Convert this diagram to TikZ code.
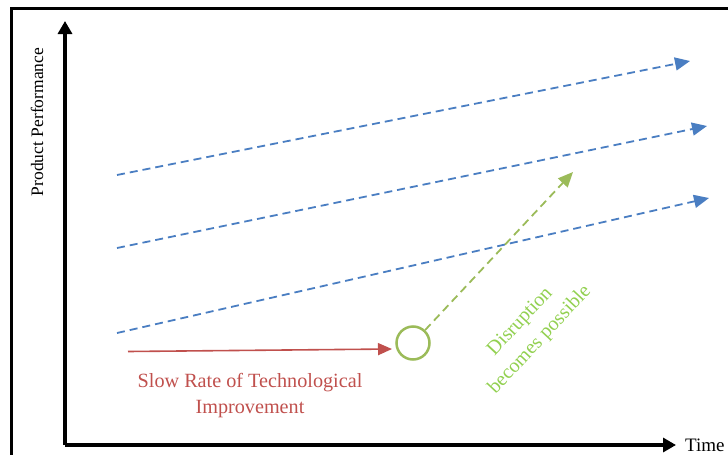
\documentclass[tikz,border=0pt]{standalone}
\usepackage{fontspec}
\setmainfont{Liberation Serif}
\usetikzlibrary{arrows.meta}
\definecolor{trendblue}{HTML}{4A7EC2}
\definecolor{slowred}{HTML}{C0504D}
\definecolor{disgreen}{HTML}{9BBB59}
\definecolor{distext}{HTML}{92D050}
\tikzset{
  axis/.style={line width=3.2pt,-{Triangle[length=13pt,width=14pt]}},
  trend/.style={trendblue,line width=1.8pt,dash pattern=on 8pt off 5pt,-{Triangle[length=15pt,width=13pt]}},
  slowarrow/.style={slowred,line width=1.6pt,-{Triangle[length=14pt,width=12pt]}},
  jump/.style={disgreen,line width=1.8pt,dash pattern=on 8pt off 5pt,-{Triangle[length=15pt,width=13pt]}},
  ring/.style={circle,draw=disgreen,line width=2.5pt,minimum size=33pt,inner sep=0pt},
  lbl/.style={inner sep=0pt,font=\fontsize{17.5}{20}\selectfont},
  dislbl/.style={inner sep=0pt,distext,rotate=47,font=\fontsize{20}{24}\selectfont},
}
\begin{document}
\begin{tikzpicture}[x=1pt,y=-1pt]
\useasboundingbox (0,0) rectangle (728,455);
% frame
\draw[line width=3pt] (10,8.5) -- (728,8.5);
\draw[line width=3pt] (11.5,7) -- (11.5,455);
% axes
\coordinate (o) at (65,445);
\coordinate (ytip) at (65,21);
\coordinate (xtip) at (676,445);
\draw[axis] (o) -- (ytip);
\draw[axis] (o) -- (xtip);
\node[lbl,anchor=west,font=\fontsize{19}{22}\selectfont] (tl) at (685,445) {Time};
\node[lbl,rotate=90] (pl) at (37,122) {Product Performance};
% sustaining trajectories
\coordinate (a1) at (117,175);
\coordinate (b1) at (690,61);
\coordinate (a2) at (117,248);
\coordinate (b2) at (707,126);
\coordinate (a3) at (117,333);
\coordinate (b3) at (709,198);
\draw[trend] (a1) -- (b1);
\draw[trend] (a2) -- (b2);
\draw[trend] (a3) -- (b3);
% slow improvement
\node[ring] (c) at (413,343) {};
\coordinate (r0) at (128,351.5);
\coordinate (r1) at (392,349);
\draw[slowarrow] (r0) -- (r1);
\node[lbl,slowred,align=center,font=\fontsize{20.2}{26}\selectfont] (sl) at (250,396) {Slow Rate of Technological\\Improvement};
% disruption
\coordinate (g1) at (573,172);
\draw[jump] (c) -- (g1);
\node[dislbl] (d1) at (520.5,322) {Disruption};
\node[dislbl] (d2) at (540,340) {becomes possible};
\end{tikzpicture}
\end{document}
